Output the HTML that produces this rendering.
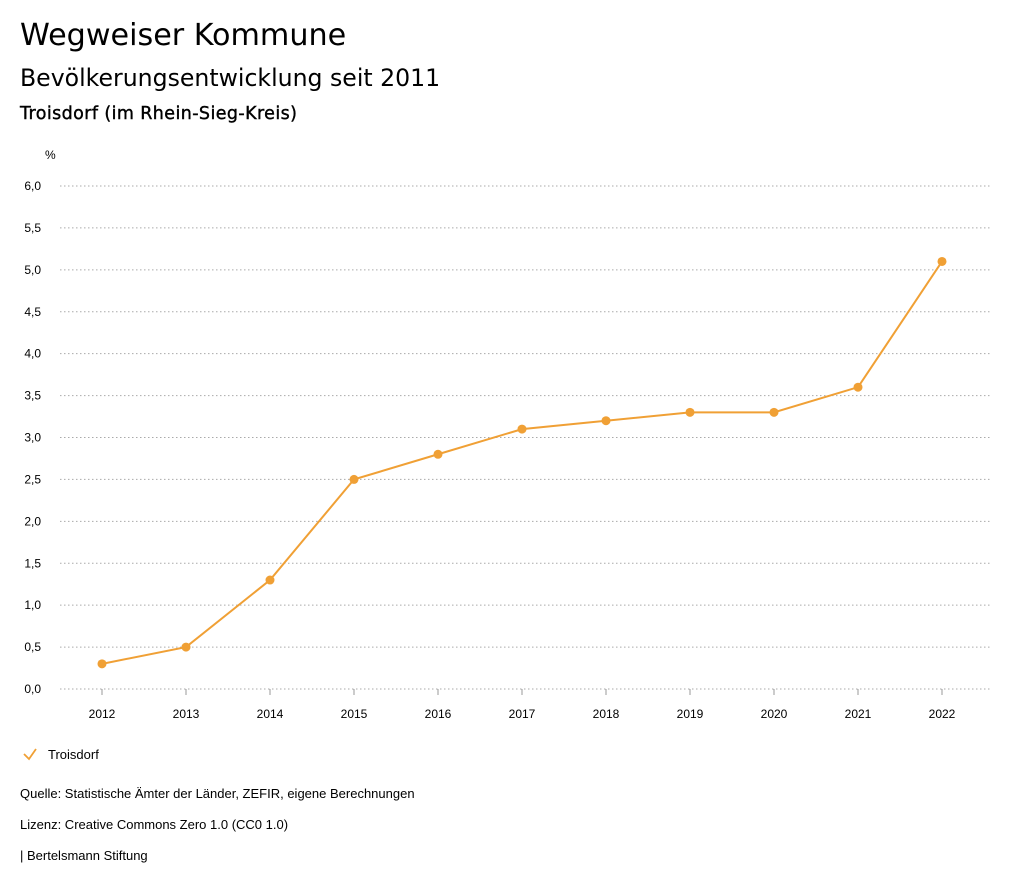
<!DOCTYPE html>
<html><head><meta charset="utf-8"><style>
body{margin:0;background:#fff;width:1024px;height:888px;overflow:hidden;font-family:"Liberation Sans",sans-serif;color:#000}
.t{position:absolute;left:20px;white-space:nowrap}
.d{font-family:"DejaVu Sans",sans-serif}
</style></head><body>
<div class="t d" style="top:18px;font-size:30.2px">Wegweiser Kommune</div>
<div class="t d" style="top:64px;font-size:23.6px">Bevölkerungsentwicklung seit 2011</div>
<div class="t d" style="top:104px;font-size:17.5px;letter-spacing:0.4px;-webkit-text-stroke:0.4px #000">Troisdorf (im Rhein-Sieg-Kreis)</div>
<svg id="chart" width="1024" height="888" style="position:absolute;left:0;top:0"></svg>
<div class="t" style="top:786px;font-size:13px">Quelle: Statistische Ämter der Länder, ZEFIR, eigene Berechnungen</div>
<div class="t" style="top:817px;font-size:13px">Lizenz: Creative Commons Zero 1.0 (CC0 1.0)</div>
<div class="t" style="top:848px;font-size:13px">| Bertelsmann Stiftung</div>
<script>
const categories=["2012","2013","2014","2015","2016","2017","2018","2019","2020","2021","2022"];
const values=[0.3,0.5,1.3,2.5,2.8,3.1,3.2,3.3,3.3,3.6,5.1];
const yTicks=[0,0.5,1,1.5,2,2.5,3,3.5,4,4.5,5,5.5,6];
const seriesName="Troisdorf";
const C="#f0a035";
const svg=document.getElementById('chart');
const NS="http://www.w3.org/2000/svg";
const x=i=>102+i*84;
const y=v=>689-v*(503/6);
function mk(t,a){const e=document.createElementNS(NS,t);for(const k in a)e.setAttribute(k,a[k]);svg.appendChild(e);return e;}
let u=mk('text',{x:45,y:159,'font-size':12,'font-family':'Liberation Sans'});u.textContent='%';


yTicks.forEach(v=>{
 const l=mk('line',{x1:60,x2:990,y1:y(v),y2:y(v),stroke:'#aaa','stroke-dasharray':'1.5,2.5'});
 
 
 const t=mk('text',{x:41,y:y(v)+4,'font-size':12,'text-anchor':'end','font-family':'Liberation Sans'});
 t.textContent=v.toFixed(1).replace('.',',');
 
 
});
categories.forEach((c,i)=>{
 const k=mk('line',{x1:x(i),x2:x(i),y1:689,y2:695,stroke:'#999'});
 
 
 const t=mk('text',{x:x(i),y:718,'font-size':12,'text-anchor':'middle','font-family':'Liberation Sans'});
 t.textContent=c;
 
 
});
const p=mk('polyline',{points:values.map((v,i)=>x(i)+','+y(v)).join(' '),fill:'none',stroke:C,'stroke-width':2});


values.forEach((v,i)=>{
 const d=mk('circle',{cx:x(i),cy:y(v),r:4.5,fill:C});
 
 
});
const lg=mk('polyline',{points:'24,754 29,759 36,749',fill:'none',stroke:C,'stroke-width':1.8});


const lt=mk('text',{x:48,y:759,'font-size':13,'font-family':'Liberation Sans'});
lt.textContent=seriesName;


</script>
</body></html>
